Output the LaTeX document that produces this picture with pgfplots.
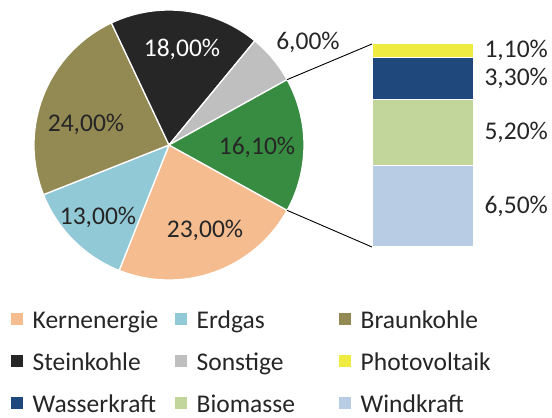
\documentclass[border=0pt]{standalone}
\usepackage{fontspec}
\setmainfont{Carlito}
\usepackage{pgfplots}
\usepackage{pgfplotstable}
\pgfplotsset{compat=1.18}
\definecolor{kern}{HTML}{F4BC8F}
\definecolor{erdgas}{HTML}{92C9D6}
\definecolor{braun}{HTML}{938953}
\definecolor{stein}{HTML}{262626}
\definecolor{sonst}{HTML}{BFBFBF}
\definecolor{ee}{HTML}{388C41}
\definecolor{pv}{HTML}{EFEB41}
\definecolor{wasser}{HTML}{1F487C}
\definecolor{bio}{HTML}{C2D59B}
\definecolor{wind}{HTML}{B8CCE4}
\definecolor{txt}{HTML}{262626}

\pgfplotstableread{
label value
Kernenergie 23
Erdgas 13
Braunkohle 24
Steinkohle 18
Sonstige 6
Erneuerbare 16.1
}\piedata

\pgfplotstableread{
pos value
0 6.5
}\winddata
\pgfplotstableread{
pos value
0 5.2
}\biodata
\pgfplotstableread{
pos value
0 3.3
}\wasserdata
\pgfplotstableread{
pos value
0 1.1
}\pvdata

\newcommand\slice[2]{%
  \fill[#2, draw=white, line width=1.3pt] (axis cs:169,273) -- ++(\csname sa#1\endcsname:135pt)
    arc[start angle=\csname sa#1\endcsname, end angle=\csname ea#1\endcsname, radius=135pt] -- cycle;}

\begin{document}
% angles of the slices, clockwise, with the last slice centred at 3 o'clock
\def\pietotal{0}%
\pgfplotsforeachungrouped \pidx in {0,...,5}{%
  \pgfplotstablegetelem{\pidx}{value}\of\piedata
  \pgfmathsetmacro\pietotal{\pietotal+\pgfplotsretval}}%
\pgfplotstablegetelem{5}{value}\of\piedata
\pgfmathsetmacro\startang{360-180*(\pgfplotsretval/\pietotal)}%
\def\piecum{0}%
\pgfplotsforeachungrouped \pidx in {0,...,5}{%
  \pgfplotstablegetelem{\pidx}{value}\of\piedata
  \pgfmathsetmacro\angA{\startang-360*(\piecum/\pietotal)}%
  \pgfmathsetmacro\piecum{\piecum+\pgfplotsretval}%
  \pgfmathsetmacro\angB{\startang-360*(\piecum/\pietotal)}%
  \expandafter\xdef\csname sa\pidx\endcsname{\angA}%
  \expandafter\xdef\csname ea\pidx\endcsname{\angB}}%
\begin{tikzpicture}
\begin{axis}[
  x=1pt, y=1pt, xmin=0, xmax=552, ymin=0, ymax=418,
  hide axis, clip=false,
  legend columns=3,
  legend cell align=left,
  legend image code/.code={\path[#1, draw=none] (0pt,-2pt) rectangle (12pt,10pt);},
  legend style={draw=none, fill=none, at={(0.0194,0.257)}, anchor=north west,
    inner sep=0pt, outer sep=0pt, row sep=18pt, column sep=0pt,
    font=\fontsize{25.5}{30}\selectfont, text=txt,
    nodes={inner sep=0pt, text height=18pt, text depth=6pt}},
]
\slice{0}{kern}
\slice{1}{erdgas}
\slice{2}{braun}
\slice{3}{stein}
\slice{4}{sonst}
\slice{5}{ee}
\draw[black, line width=0.9pt] (axis cs:169,273) ++(\csname sa5\endcsname:135pt) -- (axis cs:372,374);
\draw[black, line width=0.9pt] (axis cs:169,273) ++(\csname ea5\endcsname:135pt) -- (axis cs:372,171);
\node[white, font=\fontsize{25.5}{30}\selectfont] at (axis cs:182,369) {18,00\%};
\node[txt, font=\fontsize{25.5}{30}\selectfont] at (axis cs:86,294) {24,00\%};
\node[txt, font=\fontsize{25.5}{30}\selectfont] at (axis cs:98,201) {13,00\%};
\node[txt, font=\fontsize{25.5}{30}\selectfont] at (axis cs:205,188) {23,00\%};
\node[txt, font=\fontsize{25.5}{30}\selectfont] at (axis cs:257,271) {16,10\%};
\node[txt, font=\fontsize{25.5}{30}\selectfont] at (axis cs:308,376) {6,00\%};
\addlegendimage{fill=kern}\addlegendentry{\hspace*{10pt}\makebox[142pt][l]{Kernenergie}}
\addlegendimage{fill=erdgas}\addlegendentry{\hspace*{10pt}\makebox[142pt][l]{Erdgas}}
\addlegendimage{fill=braun}\addlegendentry{\hspace*{10pt}\makebox[142pt][l]{Braunkohle}}
\addlegendimage{fill=stein}\addlegendentry{\hspace*{10pt}\makebox[142pt][l]{Steinkohle}}
\addlegendimage{fill=sonst}\addlegendentry{\hspace*{10pt}\makebox[142pt][l]{Sonstige}}
\addlegendimage{fill=pv}\addlegendentry{\hspace*{10pt}\makebox[142pt][l]{Photovoltaik}}
\addlegendimage{fill=wasser}\addlegendentry{\hspace*{10pt}\makebox[142pt][l]{Wasserkraft}}
\addlegendimage{fill=bio}\addlegendentry{\hspace*{10pt}\makebox[142pt][l]{Biomasse}}
\addlegendimage{fill=wind}\addlegendentry{\hspace*{10pt}\makebox[142pt][l]{Windkraft}}
\end{axis}
\begin{axis}[
  at={(372pt,171pt)}, anchor=south west, scale only axis,
  width=101pt, height=203pt,
  xmin=-0.5, xmax=0.5, ymin=0, ymax=16.1,
  hide axis, clip=false,
  ybar stacked, bar width=101pt,
]
\addplot[fill=wind, draw=white, line width=1pt] table[x index=0, y index=1] {\winddata};
\addplot[fill=bio, draw=white, line width=1pt] table[x index=0, y index=1] {\biodata};
\addplot[fill=wasser, draw=white, line width=1pt] table[x index=0, y index=1] {\wasserdata};
\addplot[fill=pv, draw=white, line width=1pt] table[x index=0, y index=1] {\pvdata};
\node[txt, anchor=west, xshift=8pt, font=\fontsize{25.5}{30}\selectfont] at (axis cs:0.5,15.55) {1,10\%};
\node[txt, anchor=west, xshift=8pt, font=\fontsize{25.5}{30}\selectfont] at (axis cs:0.5,13.35) {3,30\%};
\node[txt, anchor=west, xshift=8pt, font=\fontsize{25.5}{30}\selectfont] at (axis cs:0.5,9.1) {5,20\%};
\node[txt, anchor=west, xshift=8pt, font=\fontsize{25.5}{30}\selectfont] at (axis cs:0.5,3.25) {6,50\%};
\end{axis}
\pgfresetboundingbox
\path[use as bounding box] (0,0) rectangle (552pt,418pt);
\end{tikzpicture}
\end{document}
